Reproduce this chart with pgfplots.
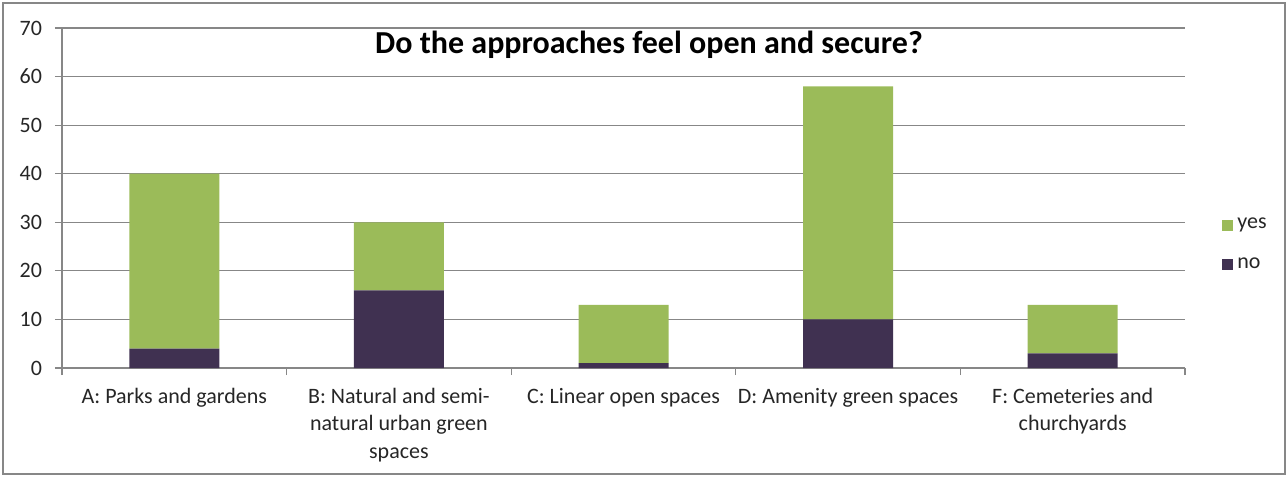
\documentclass[border=0pt]{standalone}
\usepackage{fontspec}
\setmainfont{Carlito}
\usepackage{pgfplots}
\pgfplotsset{compat=1.18}
\definecolor{yesgreen}{HTML}{9BBB59}
\definecolor{nopurple}{HTML}{403151}
\definecolor{gridgray}{HTML}{878787}
\definecolor{txt}{HTML}{262626}
\begin{document}
\begin{tikzpicture}
\useasboundingbox (0,0) rectangle (644pt,238.5pt);
\draw[gridgray, line width=1pt] (1.5pt,1.5pt) rectangle (642.5pt,237pt);
\begin{axis}[
  at={(31pt,54.5pt)}, anchor=south west,
  scale only axis, width=561.5pt, height=170pt,
  ybar stacked, bar width=45pt,
  xmin=-0.5, xmax=4.5, ymin=0, ymax=70,
  ytick={0,10,...,70},
  xtick={-0.5,0.5,...,4.5},
  xticklabels={A: Parks and gardens,
    {B: Natural and semi-\\natural urban green\\spaces},
    C: Linear open spaces,
    D: Amenity green spaces,
    {F: Cemeteries and\\churchyards},{}},
  xticklabel style={xshift=56.15pt, yshift=-3pt, align=center, text=txt, font=\fontsize{11}{13.7}\selectfont},
  yticklabel style={xshift=-3pt, text=txt, font=\fontsize{11}{13.5}\selectfont},
  /pgf/number format/assume math mode=true,
  axis x line*=bottom, axis y line*=left,
  tick align=outside, major tick length=3.5pt,
  tick style={gridgray, line width=0.6pt},
  axis line style={gridgray, line width=0.6pt},
  ymajorgrids, grid style={gridgray, line width=0.6pt},
  legend style={at={(1.0276,0.362)}, anchor=west, draw=none, fill=none,
    font=\fontsize{11}{13.5}\selectfont, text=txt, row sep=9pt},
  legend cell align=left,
  reverse legend,
  legend image code/.code={\fill[#1] (0pt,-2.75pt) rectangle (5.5pt,2.75pt);},
]
\addplot[fill=nopurple, draw=none] coordinates {(0,4) (1,16) (2,1) (3,10) (4,3)};
\addlegendentry{no}
\addplot[fill=yesgreen, draw=none] coordinates {(0,36) (1,14) (2,12) (3,48) (4,10)};
\addlegendentry{yes}
\end{axis}
\node[font=\fontsize{16}{19}\selectfont\bfseries, text=black] at (324.5pt,216pt) {Do the approaches feel open and secure?};
\end{tikzpicture}
\end{document}
